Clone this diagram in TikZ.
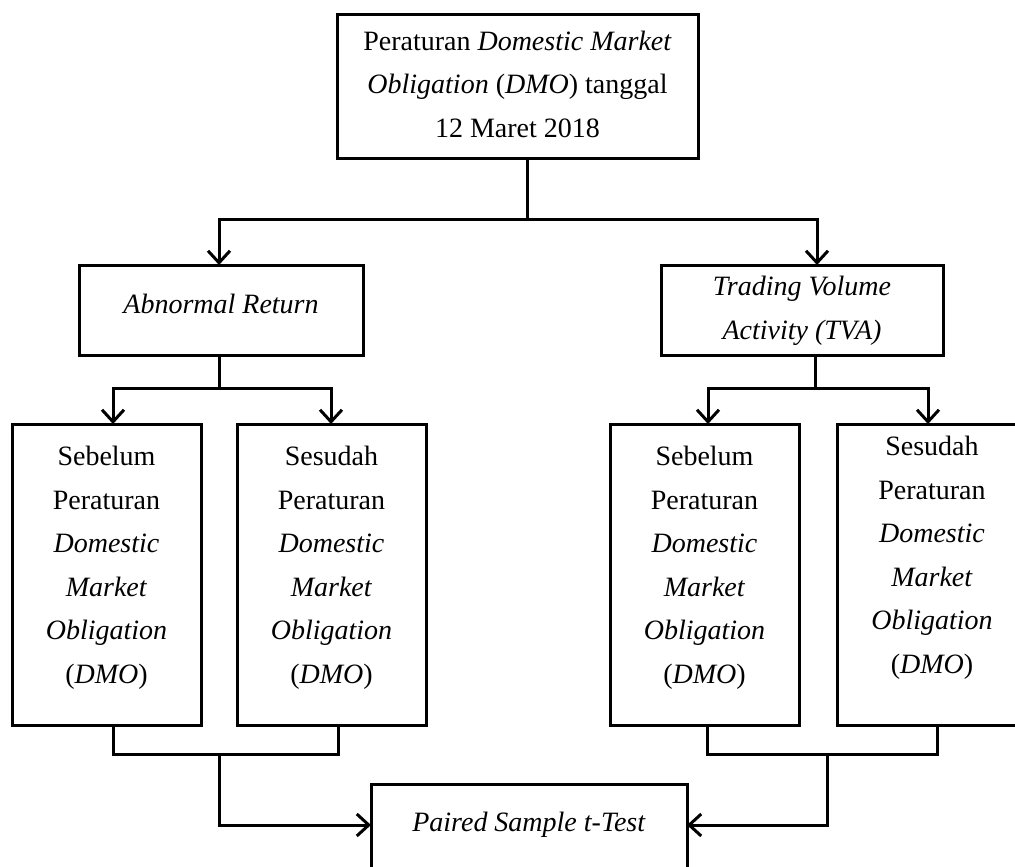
\documentclass[tikz,border=0pt]{standalone}
\usepackage{fontspec}
\setmainfont{Liberation Serif}
\usetikzlibrary{arrows.meta}
\begin{document}
\begin{tikzpicture}[x=1pt,y=-1pt,
  box/.style={draw, line width=3pt, rectangle, inner sep=0pt},
  txt/.style={align=center, inner sep=0pt, font=\fontsize{28}{43.5}\selectfont},
  conn/.style={line width=3pt},
  arr/.style={line width=3pt, -{Straight Barb[length=12pt,width=22pt]}}
]
\useasboundingbox (0,0) rectangle (1015,867);

% boxes
\node[box, minimum width=361pt, minimum height=143pt] (top) at (517.5,86.5) {};
\node[txt] (topt) at (517.5,84) {Peraturan \textit{Domestic Market}\\\textit{Obligation} (\textit{DMO}) tanggal\\12 Maret 2018};

\node[box, minimum width=284pt, minimum height=90pt] (ar) at (221,310) {};
\node[txt] (art) at (221,304) {\textit{Abnormal Return}};

\node[box, minimum width=282pt, minimum height=90pt] (tva) at (802,310) {};
\node[txt] (tvat) at (802,311) {\textit{Trading Volume}\\\textit{Activity (TVA)}};

\node[box, minimum width=189pt, minimum height=301pt] (b1) at (106.5,574.5) {};
\node[txt] (b1t) at (106.5,568) {Sebelum\\Peraturan\\\textit{Domestic}\\\textit{Market}\\\textit{Obligation}\\(\textit{DMO})};

\node[box, minimum width=189pt, minimum height=301pt] (b2) at (331.5,574.5) {};
\node[txt] (b2t) at (331.5,568) {Sesudah\\Peraturan\\\textit{Domestic}\\\textit{Market}\\\textit{Obligation}\\(\textit{DMO})};

\node[box, minimum width=189pt, minimum height=301pt] (b3) at (704.5,574.5) {};
\node[txt] (b3t) at (704.5,568) {Sebelum\\Peraturan\\\textit{Domestic}\\\textit{Market}\\\textit{Obligation}\\(\textit{DMO})};

\node[box, minimum width=183pt, minimum height=301pt] (b4) at (928.5,574.5) {};
\node[txt] (b4t) at (932,558) {Sesudah\\Peraturan\\\textit{Domestic}\\\textit{Market}\\\textit{Obligation}\\(\textit{DMO})};

\node[box, minimum width=316pt, minimum height=86pt] (pt) at (529,827) {};
\node[txt] (ptt) at (529,825) {\textit{Paired Sample t-Test}};

% junction coordinates
\coordinate (j1) at (527,219);
\coordinate (arIn) at (219,265);
\coordinate (tvaIn) at (817,265);
\coordinate (j2) at (219,388);
\coordinate (b1In) at (113,424);
\coordinate (b2In) at (331,424);
\coordinate (j3) at (815,388);
\coordinate (b3In) at (708,424);
\coordinate (b4In) at (928,424);
\coordinate (b1Out) at (113,725);
\coordinate (b2Out) at (338,725);
\coordinate (b3Out) at (707,725);
\coordinate (b4Out) at (937,725);
\coordinate (jl) at (219,754);
\coordinate (jr) at (827,754);
\coordinate (ptL) at (371,825);
\coordinate (ptR) at (687,825);

% connectors
\draw[conn] (top.south -| j1) -- (j1);
\draw[arr] (j1) -| (arIn);
\draw[arr] (j1) -| (tvaIn);

\draw[conn] (ar.south -| j2) -- (j2);
\draw[arr] (j2) -| (b1In);
\draw[arr] (j2) -| (b2In);

\draw[conn] (tva.south -| j3) -- (j3);
\draw[arr] (j3) -| (b3In);
\draw[arr] (j3) -| (b4In);

\draw[conn] (b1Out) |- (jl -| b2Out) -- (b2Out);
\draw[conn] (b3Out) |- (jr -| b4Out) -- (b4Out);
\draw[arr] (jl) |- (ptL);
\draw[arr] (jr) |- (ptR);
\end{tikzpicture}
\end{document}
